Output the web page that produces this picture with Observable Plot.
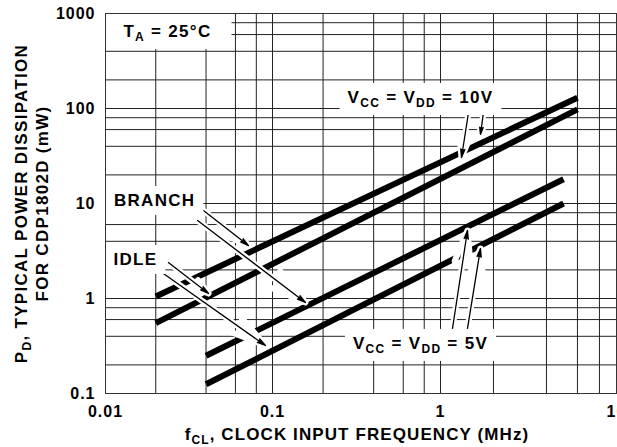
<!DOCTYPE html>
<html><head><meta charset="utf-8">
<script src="https://cdn.jsdelivr.net/npm/d3@7"></script>
<script src="https://cdn.jsdelivr.net/npm/@observablehq/plot@0.6"></script>
<style>
html,body{margin:0;padding:0;background:#fff;}
svg text{font-family:"Liberation Sans",Arial,Helvetica,sans-serif;font-weight:bold;letter-spacing:1px;}
svg g.boxed text{letter-spacing:1.3px;}
svg g.ytitle text{letter-spacing:1.3px;}
svg g.xtitle text{letter-spacing:1.1px;}
svg g.arrowk path{fill:black;}
</style></head><body><div id="chart"></div>
<script>
// ---- data (frequency in MHz, power in mW) ----
const curveNames = ["10V branch", "10V idle", "5V branch", "5V idle"];
const curveFreq = [[0.02, 6], [0.02, 6], [0.04, 5], [0.04, 5]];
const curvePower = [[1.05, 130], [0.55, 98], [0.25, 18], [0.125, 10]];

const xTicks = [0.01, 0.1, 1, 10];
const xTickLabels = ["0.01", "0.1", "1", "10"];
const yTicks = [0.1, 1, 10, 100, 1000];
const yTickLabels = ["0.1", "1", "10", "100", "1000"];
const xGrid = [0.01,0.02,0.04,0.06,0.08,0.1,0.2,0.4,0.6,0.8,1,2,4,6,8,10];
const yGrid = [0.1,0.2,0.4,0.6,0.8,1,2,4,6,8,10,20,40,60,80,100,200,400,600,800,1000];

// annotation labels (anchored in data units)
const labelText = ["T{A} = 25°C", "BRANCH", "IDLE", "V{CC} = V{DD} = 10V", "V{CC} = V{DD} = 5V"];
const labelFreq = [0.0235, 0.0197, 0.0151, 0.76, 0.76];
const labelPower = [646, 10.76, 2.57, 130.6, 0.336];

// arrows: tail -> tip
const arrowFromFreq = [0.0386, 0.0356, 0.0238, 0.0222, 1.443, 1.755, 1.17, 1.423];
const arrowFromPower = [8.44, 6.62, 2.39, 1.83, 90.8, 90.8, 0.483, 0.483];
const arrowToFreq = [0.0718, 0.157, 0.0414, 0.0907, 1.316, 1.687, 1.423, 1.687];
const arrowToPower = [3.61, 0.908, 1.13, 0.32, 30.5, 53.3, 5.2, 3.36];

const xTitle = "f{CL}, CLOCK INPUT FREQUENCY (MHz)";
const yTitle1 = "P{D}, TYPICAL POWER DISSIPATION";
const yTitle2 = "FOR CDP1802D (mW)";

// ---- build tables ----
const curveRows = curveNames.flatMap((name, i) =>
  curveFreq[i].map((f, j) => ({name, f, p: curvePower[i][j]})));
const labelRows = labelText.map((t, i) => ({t, f: labelFreq[i], p: labelPower[i], i}));
const arrowRows = arrowFromFreq.map((f, i) => ({f1: f, p1: arrowFromPower[i], f2: arrowToFreq[i], p2: arrowToPower[i]}));
const xFmt = new Map(xTicks.map((t, i) => [t, xTickLabels[i]]));
const yFmt = new Map(yTicks.map((t, i) => [t, yTickLabels[i]]));

const chart = Plot.plot({
  width: 617, height: 447,
  marginLeft: 105, marginRight: 1, marginTop: 13, marginBottom: 54,
  style: {fontFamily: '"Liberation Sans", Arial, sans-serif', fontWeight: "bold", fontSize: "16px", background: "white", color: "black", overflow: "visible"},
  x: {type: "log", domain: [0.01, 0.1, 1, 10], range: [105, 272, 440, 616]},
  y: {type: "log", domain: [0.1, 1000], range: [393, 13]},
  marks: [
    Plot.ruleX(xGrid, {stroke: "#222", strokeWidth: 1}),
    Plot.ruleY(yGrid, {stroke: "#222", strokeWidth: 1}),
    Plot.line(curveRows, {x: "f", y: "p", z: "name", stroke: "black", strokeWidth: 6, strokeLinecap: "butt"}),
    Plot.arrow(arrowRows, {x1: "f1", y1: "p1", x2: "f2", y2: "p2", stroke: "white", strokeWidth: 6, headLength: 10, headAngle: 28}),
    Plot.arrow(arrowRows, {x1: "f1", y1: "p1", x2: "f2", y2: "p2", stroke: "black", strokeWidth: 1.3, headLength: 10, headAngle: 28, className: "arrowk"}),
    Plot.text(labelRows, {x: "f", y: "p", text: "t", fill: "black", fontSize: 17, fontWeight: "bold", className: "boxed"}),
    Plot.axisX(xTicks, {tickSize: 0, tickPadding: 12, tickFormat: d => xFmt.get(d), fontSize: 16, fontWeight: "bold", label: null}),
    Plot.axisY(yTicks, {tickSize: 0, tickPadding: 10, tickFormat: d => yFmt.get(d), fontSize: 16, fontWeight: "bold", label: null}),
    Plot.text([xTitle], {text: d => d, frameAnchor: "bottom", textAnchor: "middle", dy: 46, dx: -4, fontSize: 17, fontWeight: "bold", className: "xtitle"}),
    Plot.text([yTitle1], {text: d => d, frameAnchor: "left", textAnchor: "middle", rotate: -90, dx: -84, fontSize: 17, fontWeight: "bold", className: "ytitle"}),
    Plot.text([yTitle2], {text: d => d, frameAnchor: "left", textAnchor: "middle", rotate: -90, dx: -63, fontSize: 17, fontWeight: "bold", className: "ytitle"}),
    Plot.frame({stroke: "#333", className: "frm"})
  ]
});
document.getElementById("chart").appendChild(chart);

// ---- subscripts ----
const NS = "http://www.w3.org/2000/svg";
function applySubs(el) {
  const raw = el.textContent;
  if (!raw.includes("{")) return;
  while (el.firstChild) el.removeChild(el.firstChild);
  let shifted = false;
  for (const part of raw.split(/(\{[^}]*\})/)) {
    if (!part) continue;
    const ts = document.createElementNS(NS, "tspan");
    if (part.startsWith("{")) {
      ts.textContent = part.slice(1, -1);
      ts.setAttribute("font-size", "12");
      ts.setAttribute("dy", "4");
      shifted = true;
    } else {
      ts.textContent = part;
      if (shifted) { ts.setAttribute("dy", "-4"); shifted = false; }
    }
    el.appendChild(ts);
  }
}
chart.querySelectorAll("text").forEach(applySubs);

// ---- white boxes behind labels (clipped to the frame) ----
const boxed = chart.querySelector("g.boxed");
const boxLayer = document.createElementNS(NS, "g");
boxed.parentNode.insertBefore(boxLayer, boxed);
const svgRect = chart.getBoundingClientRect();
const fx0 = 105, fy0 = 13;
boxed.querySelectorAll("text").forEach((t, i) => {
  const b = t.getBoundingClientRect();
  let x0 = b.left - svgRect.left - 8, y0 = b.top - svgRect.top - 5;
  let x1 = b.right - svgRect.left + 8, y1 = b.bottom - svgRect.top + 5;
  if (x0 - fx0 < 16) x0 = fx0;
  if (y0 - fy0 < 16) { y0 = fy0; x1 += 12; }
  const r = document.createElementNS(NS, "rect");
  r.setAttribute("x", x0); r.setAttribute("y", y0);
  r.setAttribute("width", x1 - x0); r.setAttribute("height", y1 - y0);
  r.setAttribute("fill", "white");
  boxLayer.appendChild(r);
});
const frm = chart.querySelector(".frm");
if (frm) chart.appendChild(frm);
</script></body></html>
